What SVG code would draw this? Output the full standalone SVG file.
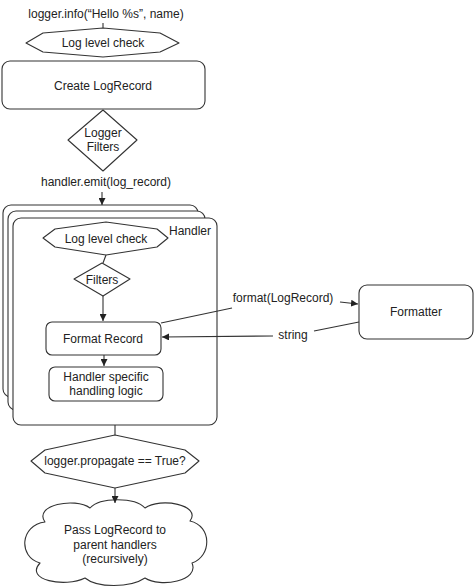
<svg xmlns="http://www.w3.org/2000/svg" width="474" height="587" viewBox="0 0 474 587">
<defs>
<style>
.s{fill:#fff;stroke:#333;stroke-width:1.1;stroke-linejoin:round}
.l{fill:none;stroke:#333;stroke-width:1.1}
text{font-family:"Liberation Sans",Arial,sans-serif;font-size:12px;fill:#222;text-anchor:middle;dominant-baseline:central}
</style>
<marker id="ah" viewBox="0 0 10 10" refX="10" refY="5" markerWidth="7" markerHeight="7" orient="auto-start-reverse" markerUnits="userSpaceOnUse">
<path d="M0,0 L10,5 L0,10 Z" fill="#222"/>
</marker>
</defs>
<rect width="474" height="587" fill="#fff"/>
<g id="call"><text x="106" y="14">logger.info(“Hello %s”, name)</text></g>
<g id="loglevel1">
<polygon class="s" points="26,43 43,33 103,28 160,33 179,43 160,52 103,57 43,52"/>
<text x="103" y="43">Log level check</text>
</g>
<g id="create">
<rect class="s" x="2" y="61" width="203" height="48" rx="8"/>
<text x="103" y="86">Create LogRecord</text>
</g>
<g id="loggerfilters">
<polygon class="s" points="68,140 103,110 137,140 103,171"/>
<text x="103" y="133">Logger</text>
<text x="103" y="147">Filters</text>
</g>
<g id="emit"><text x="106" y="182">handler.emit(log_record)</text></g>
<g id="handler">
<rect class="s" x="3" y="205" width="195" height="192" rx="8"/>
<rect class="s" x="8" y="211" width="197" height="199" rx="8"/>
<rect class="s" x="13" y="218" width="204" height="207" rx="8"/>
<text x="190" y="231">Handler</text>
</g>
<g id="loglevel2">
<polygon class="s" points="43,238 55,229 106,222 157,229 168,238 157,247 106,255 55,247"/>
<text x="106" y="239">Log level check</text>
</g>
<g id="filters">
<polygon class="s" points="74,279 102,263 130,279 103,296"/>
<text x="102" y="280">Filters</text>
</g>
<g id="format">
<rect class="s" x="46" y="322" width="115" height="33" rx="6"/>
<text x="103" y="339">Format Record</text>
</g>
<g id="specific">
<rect class="s" x="49" y="367" width="114" height="34" rx="6"/>
<text x="106" y="377">Handler specific</text>
<text x="106" y="391">handling logic</text>
</g>
<g id="propagate">
<polygon class="s" points="31,461 45,450 115,435 185,450 199,461 185,473 115,488 45,473"/>
<text x="115" y="461">logger.propagate == True?</text>
</g>
<g id="parent">
<path class="s" d="M45,522 C33,505 75,497 90,508 C100,497 135,497 145,508 C160,497 202,505 190,521 C212,526 212,556 192,563 C200,581 160,588 145,578 C130,588 97,588 85,578 C65,588 24,580 40,563 C18,557 20,525 45,522 Z"/>
<text x="115" y="530">Pass LogRecord to</text>
<text x="115" y="545">parent handlers</text>
<text x="115" y="559">(recursively)</text>
</g>
<g id="formatter">
<rect class="s" x="359" y="285" width="114" height="54" rx="8"/>
<text x="416" y="312">Formatter</text>
</g>
<g id="connectors">
<line class="l" x1="103" y1="23" x2="103" y2="28"/>
<line class="l" x1="102" y1="192" x2="102" y2="205" marker-end="url(#ah)"/>
<line class="l" x1="106" y1="255" x2="103" y2="263"/>
<line class="l" x1="103" y1="296" x2="103" y2="321" marker-end="url(#ah)"/>
<line class="l" x1="104" y1="355" x2="104" y2="366" marker-end="url(#ah)"/>
<line class="l" x1="115" y1="425" x2="115" y2="435"/>
<line class="l" x1="115" y1="488" x2="115" y2="503" marker-end="url(#ah)"/>
<line class="l" x1="161" y1="323" x2="232" y2="308"/>
<line class="l" x1="340" y1="302" x2="358" y2="304" marker-end="url(#ah)"/>
<line class="l" x1="359" y1="322" x2="314" y2="331"/>
<line class="l" x1="273" y1="336" x2="162" y2="337" marker-end="url(#ah)"/>
</g>
<g id="labels">
<text x="283" y="298">format(LogRecord)</text>
<text x="293" y="335">string</text>
</g>
</svg>
